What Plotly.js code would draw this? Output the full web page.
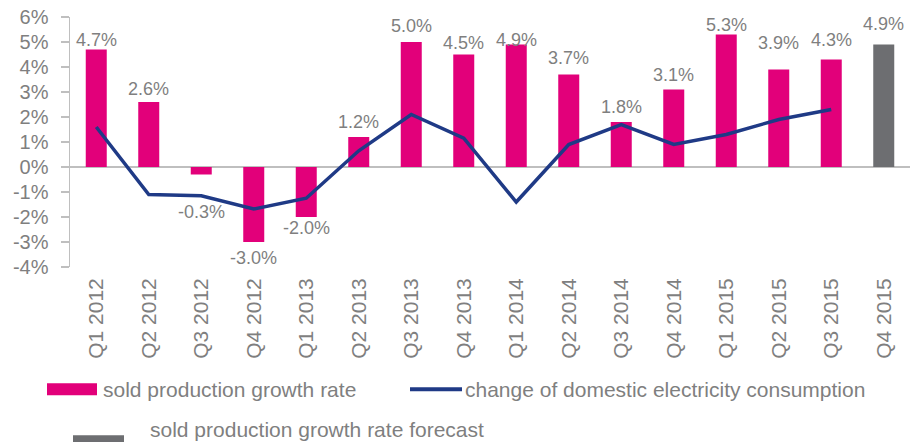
<!DOCTYPE html>
<html>
<head>
<meta charset="utf-8">
<script src="https://cdn.plot.ly/plotly-3.0.1.min.js"></script>
<style>html,body{margin:0;padding:0;background:#fff;}#chart{width:910px;height:442px;}</style>
</head>
<body>
<div id="chart"></div>
<script>
// ---- data ----
var quarters = ["Q1 2012","Q2 2012","Q3 2012","Q4 2012","Q1 2013","Q2 2013","Q3 2013","Q4 2013",
                "Q1 2014","Q2 2014","Q3 2014","Q4 2014","Q1 2015","Q2 2015","Q3 2015","Q4 2015"];
var soldProduction = [4.7, 2.6, -0.3, -3.0, -2.0, 1.2, 5.0, 4.5, 4.9, 3.7, 1.8, 3.1, 5.3, 3.9, 4.3, null];
var forecast = [null, null, null, null, null, null, null, null, null, null, null, null, null, null, null, 4.9];
var electricity = [1.6, -1.1, -1.15, -1.68, -1.25, 0.65, 2.1, 1.15, -1.4, 0.9, 1.7, 0.9, 1.3, 1.9, 2.3, null];
var yTicks = [-4, -3, -2, -1, 0, 1, 2, 3, 4, 5, 6];

// ---- styles ----
var labelOffsetPx = [10, 13, -37, -16, -11, 15, 16, 11.5, 4.5, 16.5, 15, 14.5, 9.5, 27, 19.5, 20.5];
var FONT = "Liberation Sans, Arial, sans-serif";
var GREY_TEXT = "#7f7f7f";
var AXIS = "#bfbfbf";
var MAGENTA = "#e2007a";
var NAVY = "#1f3a86";
var FGREY = "#6d6e71";

var traces = [
  {type: "bar", x: quarters, y: soldProduction, marker: {color: MAGENTA}, width: 0.4,
   name: "sold production growth rate", hoverinfo: "skip"},
  {type: "bar", x: quarters, y: forecast, marker: {color: FGREY}, width: 0.4,
   name: "sold production growth rate forecast", hoverinfo: "skip"},
  {type: "scatter", mode: "lines", x: quarters, y: electricity, line: {color: NAVY, width: 3.5},
   name: "change of domestic electricity consumption", hoverinfo: "skip"}
];

var annotations = [];
quarters.forEach(function (q, i) {
  var v = soldProduction[i] !== null ? soldProduction[i] : forecast[i];
  if (v === null) return;
  annotations.push({x: q, y: v, xref: "x", yref: "y", text: v.toFixed(1) + "%", showarrow: false,
    yshift: labelOffsetPx[i], yanchor: "middle", font: {family: FONT, size: 18, color: GREY_TEXT}});
});

// legend (drawn manually to match reference layout)
var L = 70, W = 840, B = 266.7, H = 250;
function px(x) { return (x - L) / W; }
function py(y) { return (B - y) / H; }
var shapes = [
  {type: "rect", xref: "paper", yref: "paper", x0: px(47), x1: px(97), y0: py(383), y1: py(395),
   fillcolor: MAGENTA, line: {width: 0}},
  {type: "line", xref: "paper", yref: "paper", x0: px(410), x1: px(462), y0: py(389), y1: py(389),
   line: {color: NAVY, width: 4}},
  {type: "rect", xref: "paper", yref: "paper", x0: px(73), x1: px(124), y0: py(435), y1: py(446),
   fillcolor: FGREY, line: {width: 0}}
];
annotations.push(
  {xref: "paper", yref: "paper", x: px(101), y: py(389.5), xanchor: "left", yanchor: "middle", showarrow: false,
   text: "sold production growth rate", font: {family: FONT, size: 21, color: GREY_TEXT}},
  {xref: "paper", yref: "paper", x: px(463), y: py(389.5), xanchor: "left", yanchor: "middle", showarrow: false,
   text: "change of domestic electricity consumption", font: {family: FONT, size: 21, color: GREY_TEXT}},
  {xref: "paper", yref: "paper", x: px(148), y: py(429.5), xanchor: "left", yanchor: "middle", showarrow: false,
   text: "sold production growth rate forecast", font: {family: FONT, size: 21, color: GREY_TEXT}}
);

var layout = {
  width: 910, height: 442,
  margin: {l: 70, r: 0, t: 16.7, b: 175.3, pad: 0},
  paper_bgcolor: "#fff", plot_bgcolor: "#fff",
  barmode: "overlay",
  showlegend: false,
  font: {family: FONT, color: GREY_TEXT},
  xaxis: {type: "category", tickangle: -90, showgrid: false, showline: false, zeroline: false,
          ticks: "", ticklabelstandoff: 6, tickfont: {family: FONT, size: 21, color: GREY_TEXT}},
  yaxis: {range: [-4, 6], tickvals: yTicks, ticktext: yTicks.map(function (t) { return t + "%"; }),
          showgrid: false, showline: true, linecolor: AXIS, linewidth: 1.5,
          ticks: "outside", ticklen: 8, tickcolor: AXIS, tickwidth: 1.5, ticklabelstandoff: 8,
          zeroline: true, zerolinecolor: AXIS, zerolinewidth: 2,
          tickfont: {family: FONT, size: 20, color: GREY_TEXT}},
  annotations: annotations,
  shapes: shapes
};

Plotly.newPlot("chart", traces, layout, {staticPlot: true, displayModeBar: false});
</script>
</body>
</html>
